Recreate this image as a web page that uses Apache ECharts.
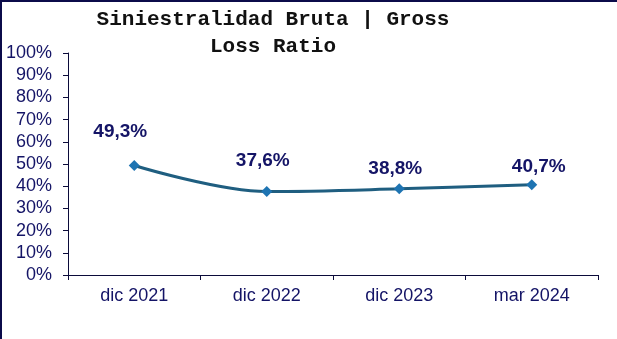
<!DOCTYPE html>
<html>
<head>
<meta charset="utf-8">
<script src="https://cdn.jsdelivr.net/npm/echarts@6/dist/echarts.min.js"></script>
<style>
  html, body { margin: 0; padding: 0; background: #fff; overflow: hidden; }
  #chart { width: 617px; height: 339px; }
</style>
</head>
<body>
<div id="chart"></div>
<script>
const categories = ['dic 2021', 'dic 2022', 'dic 2023', 'mar 2024'];
const lossRatio = [49.3, 37.6, 38.8, 40.7];
const yTicks = [0, 10, 20, 30, 40, 50, 60, 70, 80, 90, 100];

// label placement tweaks around each marker (pixels)
const labelShift = [[-14, -14], [-4, -11], [-4, 0], [7, 2]];

const navy = '#141466';
const frame = '#0B0B4A';
const chart = echarts.init(document.getElementById('chart'));

chart.setOption({
  animation: false,
  backgroundColor: '#ffffff',
  title: {
    text: 'Siniestralidad Bruta | Gross\nLoss Ratio',
    left: 268, top: 1, textAlign: 'center',
    textStyle: {
      fontFamily: 'Liberation Mono', fontWeight: 'bold', fontSize: 21,
      color: '#111111', lineHeight: 27
    }
  },
  graphic: [
    { type: 'line', shape: { x1: 0, y1: 1, x2: 617, y2: 1 }, style: { stroke: frame, lineWidth: 2 } },
    { type: 'line', shape: { x1: 1, y1: 0, x2: 1, y2: 339 }, style: { stroke: frame, lineWidth: 2 } }
  ],
  grid: { left: 68, right: 19, top: 53, bottom: 64 },
  xAxis: {
    type: 'category',
    data: categories,
    boundaryGap: true,
    axisLine: { lineStyle: { color: '#0B0B3A', width: 1 } },
    axisTick: { show: true, length: 5, lineStyle: { color: '#0B0B3A' } },
    axisLabel: {
      color: navy, fontFamily: 'Liberation Sans', fontSize: 18, margin: 12
    }
  },
  yAxis: {
    type: 'value',
    min: yTicks[0], max: yTicks[yTicks.length - 1], interval: 10,
    axisLine: { show: true, lineStyle: { color: '#0B0B3A', width: 1 } },
    axisTick: { show: true, length: 5, lineStyle: { color: '#0B0B3A' } },
    splitLine: { show: false },
    axisLabel: {
      color: navy, fontFamily: 'Liberation Sans', fontSize: 18, margin: 16,
      formatter: v => v + '%'
    }
  },
  series: [{
    type: 'line',
    smooth: 0.35,
    data: lossRatio.map((v, i) => ({
      value: v,
      label: { offset: labelShift[i] }
    })),
    lineStyle: { color: '#1F5E80', width: 3 },
    symbol: 'diamond',
    symbolSize: 11,
    itemStyle: { color: '#1E74B2' },
    label: {
      show: true, position: 'top', distance: 5,
      color: navy, fontFamily: 'Liberation Sans', fontWeight: 'bold', fontSize: 19,
      formatter: p => p.value.toFixed(1).replace('.', ',') + '%'
    }
  }]
});
</script>
</body>
</html>
